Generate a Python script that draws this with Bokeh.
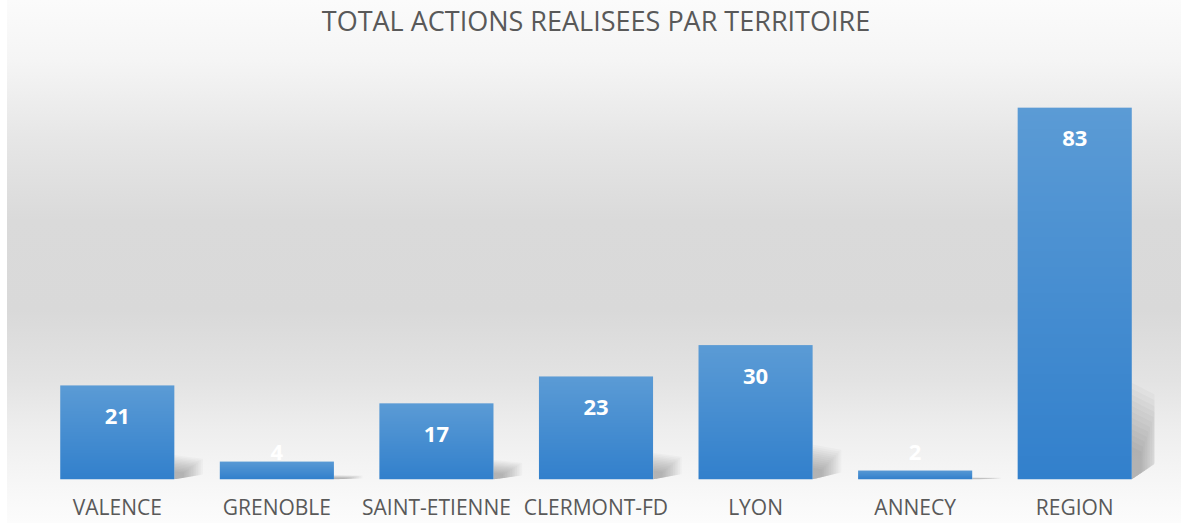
import numpy as np
from bokeh.plotting import figure
from bokeh.models import ColumnDataSource, FixedTicker, Range1d
from bokeh.core.properties import value
from bokeh.embed import file_html
from bokeh.resources import INLINE

# ---- data ----
territoires = ["VALENCE", "GRENOBLE", "SAINT-ETIENNE", "CLERMONT-FD", "LYON", "ANNECY", "REGION"]
actions = [21, 4, 17, 23, 30, 2, 83]
title_text = "TOTAL ACTIONS REALISEES PAR TERRITOIRE"

BAR_W = 0.715
TOP_RGB = (0x5B, 0x9B, 0xD5)
BOT_RGB = (0x32, 0x80, 0xCC)

xs = list(range(len(territoires)))

p = figure(width=1181, height=523, output_backend="svg", toolbar_location=None,
           x_range=Range1d(-0.5, len(territoires) - 0.5), y_range=Range1d(0, 97.77),
           min_border_left=37, min_border_right=27, min_border_top=0, min_border_bottom=44,
           title=title_text)
p.styles = {"background": "linear-gradient(to right, #ffffff 0px, #ffffff 7px, rgba(255,255,255,0) 7px), "
                          "linear-gradient(to bottom, #fbfbfb 0px, #f5f5f5 60px, #e6e6e6 140px, #dadada 220px, "
                          "#d9d9d9 310px, #e3e3e3 380px, #eeeeee 430px, #f6f6f6 480px, #fcfcfc 523px)"}
p.border_fill_color = None
p.background_fill_color = None
p.outline_line_color = None
p.grid.visible = False
p.yaxis.visible = False

p.title.align = "center"
p.title.vertical_align = "top"
p.title.text_font = "Open Sans"
p.title.text_font_style = "normal"
p.title.text_font_size = "27px"
p.title.text_color = "#595959"
p.title.standoff = 2

ax = p.xaxis[0]
ax.ticker = FixedTicker(ticks=xs)
ax.major_label_overrides = {i: t for i, t in zip(xs, territoires)}
ax.axis_line_color = None
ax.major_tick_line_color = None
ax.minor_tick_line_color = None
ax.major_tick_out = 0
ax.major_label_standoff = 13
ax.major_label_text_font = "Open Sans"
ax.major_label_text_font_size = "21px"
ax.major_label_text_color = "#595959"

# ---- shadows (perspective, soft) ----
N_SH = 12
for k in range(N_SH):
    f = 1.0 - 0.06 * k
    sx, sy = [], []
    for x, v in zip(xs, actions):
        xr = x + BAR_W / 2
        s = 0.26 * v * f
        d = 0.18 * f
        sx.append([xr, xr + d, xr + d, xr])
        sy.append([0, 0.2 * s, 0.85 * s, s])
    p.patches(sx, sy, fill_color="black", fill_alpha=0.022, line_color=None)

# ---- bars: vertical gradient image stretched over each bar ----
n = 128
t = np.linspace(0, 1, n)
rgb = [np.round(BOT_RGB[c] + (TOP_RGB[c] - BOT_RGB[c]) * t).astype(np.uint32) for c in range(3)]
grad = (rgb[0] | (rgb[1] << 8) | (rgb[2] << 16) | (np.uint32(255) << 24)).astype(np.uint32)
grad = np.repeat(grad.reshape(n, 1), 4, axis=1)
p.image_rgba(image=[grad] * len(xs), x=[x - BAR_W / 2 for x in xs], y=[0] * len(xs),
             dw=[BAR_W] * len(xs), dh=actions)

# ---- data labels ----
label_y = [max(v - 31 / 4.48, 27 / 4.48) for v in actions]
lsrc = ColumnDataSource(dict(x=xs, y=label_y, txt=[str(v) for v in actions]))
p.text(x="x", y="y", text="txt", source=lsrc, text_align="center", text_baseline="middle",
       text_color="white", text_font=value("Open Sans"), text_font_style="bold",
       text_font_size="22px")

open("out.html", "w").write(file_html(p, INLINE))
